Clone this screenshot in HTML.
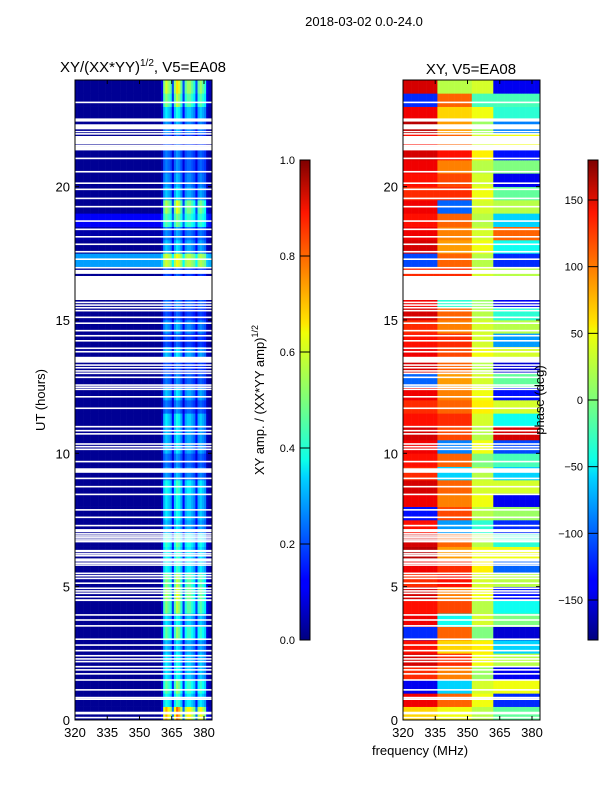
<!DOCTYPE html>
<html><head><meta charset="utf-8">
<style>
html,body{margin:0;padding:0;background:#fff;}
svg{display:block;font-family:"Liberation Sans","DejaVu Sans",sans-serif;}
</style></head>
<body>
<svg id="fig" width="600" height="800" viewBox="0 0 600 800" xmlns="http://www.w3.org/2000/svg">
<defs>
<linearGradient id="jet" x1="0" y1="1" x2="0" y2="0">
<stop offset="0" stop-color="#00007f"/><stop offset="0.11" stop-color="#0000ff"/>
<stop offset="0.125" stop-color="#0000ff"/><stop offset="0.34" stop-color="#00d4ff"/>
<stop offset="0.375" stop-color="#0dffe9"/><stop offset="0.5" stop-color="#7dff7a"/>
<stop offset="0.64" stop-color="#f0ff06"/><stop offset="0.66" stop-color="#ffe600"/>
<stop offset="0.89" stop-color="#ff1600"/><stop offset="1" stop-color="#7f0000"/>
</linearGradient>
</defs>
<text x="364" y="26" font-size="13" text-anchor="middle">2018-03-02 0.0-24.0</text>
<text x="143" y="72" font-size="15" text-anchor="middle">XY/(XX*YY)<tspan font-size="10" dy="-6">1/2</tspan><tspan dy="6">, V5=EA08</tspan></text>
<text x="471" y="74" font-size="15" text-anchor="middle">XY, V5=EA08</text>
<g id="ampPanel"></g>
<g id="phasePanel"></g>
<g id="axes"></g>
<text transform="translate(45,400) rotate(-90)" font-size="13" text-anchor="middle">UT (hours)</text>
<text x="420" y="755" font-size="13" text-anchor="middle">frequency (MHz)</text>
<text transform="translate(264,400) rotate(-90)" font-size="13" text-anchor="middle">XY amp. / (XX*YY amp)<tspan font-size="9" dy="-6">1/2</tspan></text>
<text transform="translate(544,400) rotate(-90)" font-size="13" text-anchor="middle">phase (deg)</text>
<rect x="300" y="160" width="10" height="480" fill="url(#jet)" stroke="#000" stroke-width="1"/>
<rect x="588" y="160" width="10" height="480" fill="url(#jet)" stroke="#000" stroke-width="1"/>
<g id="cbticks"></g>
</svg>
<script>
// ---- data ----
const freqStart = 320, nChan = 64; // 1 MHz channels 320..383
const chanProfile = [0,0,0,0,0,0,0,0,0,0,0,0,0,0,0,0,0,0,0,0,0,0,0,0,0,0,0,0,0,0,0,0,0,0,0,0,0,0,0,0,0.05,0.32,0.38,0.34,0.3,0.12,0.34,0.42,0.38,0.3,0.12,0.3,0.34,0.34,0.3,0.26,0.12,0.3,0.34,0.3,0.26,0.05,0.02,0.02];
const rowGain = [1.8,1.0,1.2,0.9,0.9,0.8,1.2,0.9,1.3,1.4,1.3,1.0,1.0,1.1,0.8,0.9,0.9,1.0,0.7,0.6,0.8,0.8,0.9,0.6,0.8,0.6,0.5,0.8,0.5,0.7,0.5,0.6,0.5,0.5,0.8,0.8,0.6,0.9,1.4,0.8,0.7,0.6,0.6,0.5,0.7,0.9,1.3,1.5];
const rowBg = [0.02,0.02,0.02,0.02,0.02,0.02,0.02,0.02,0.02,0.02,0.02,0.02,0.02,0.02,0.02,0.02,0.02,0.02,0.02,0.02,0.02,0.02,0.02,0.02,0.02,0.02,0.02,0.02,0.02,0.02,0.02,0.02,0.02,0.02,0.28,0.02,0.04,0.12,0.02,0.02,0.02,0.02,0.02,0.02,0.02,0.02,0.02,0.02];
const phaseBlockEdges = [320,336,352,362,384];
const phaseA = [60,140,-140,120,150,130,-120,140,130,150,120,140,160,150,130,-130,140,150,120,130,140,150,130,120,140,-100,150,140,130,120,150,140,130,120,-110,150,140,130,140,120,130,140,150,130,160,140,-120,150];
const phaseB = [40,100,-60,90,120,60,100,-40,110,90,130,120,80,100,-80,110,90,100,-60,100,-90,110,120,100,90,80,100,110,120,90,100,-30,110,120,100,80,90,100,-100,120,110,90,130,100,80,60,100,20];
const phaseC = [20,40,30,10,40,50,0,30,20,40,30,50,40,20,-30,20,40,30,20,0,40,20,30,50,40,30,20,40,30,30,20,10,40,30,20,40,30,20,30,40,30,20,50,30,10,40,-20,30];
const phaseD = [-10,-120,40,-140,20,-60,-150,0,-40,-130,20,-100,40,-30,-120,10,-140,30,-60,-20,-110,150,-40,30,-130,-10,-150,30,-80,20,-30,-140,10,20,-120,-40,100,-60,20,-10,-140,0,-130,40,-90,-30,-20,-140];
const flagStart = [23.13,22.44,22.15,22.04,21.95,21.59,21.51,21.46,21.41,21.36,21.03,20.53,20.1,19.87,19.53,19.22,18.68,18.37,18.09,17.81,17.53,17.25,16.93,16.73,15.75,15.63,15.53,15.43,15.32,15.07,14.85,14.57,14.38,14.19,13.91,13.78,13.4,13.28,13.18,13.06,12.97,12.82,12.53,12.45,12.37,12.09,11.66,10.97,10.82,10.7,10.32,10.22,10.12,9.66,9.27,9.03,8.72,8.43,7.85,7.57,7.26,7.04,6.95,6.87,6.8,6.72,6.66,6.29,6.2,6.13,5.94,5.85,5.78,5.47,5.38,5.28,5.1,4.91,4.81,4.72,4.59,4.46,3.91,3.72,3.5,3.0,2.78,2.57,2.38,2.26,2.16,1.97,1.85,1.7,1.47,1.1,0.81,0.75,0.21,0.06];
const flagEnd   = [23.19,22.56,22.34,22.09,22.01,21.9,21.57,21.52,21.47,21.42,21.09,20.59,20.16,19.93,19.59,19.28,18.74,18.43,18.15,17.87,17.59,17.31,16.99,16.88,16.65,15.69,15.59,15.49,15.38,15.13,14.91,14.63,14.44,14.25,13.97,13.84,13.62,13.34,13.24,13.12,13.03,12.88,12.59,12.51,12.43,12.15,11.72,11.03,10.88,10.76,10.38,10.28,10.18,9.72,9.44,9.09,8.78,8.49,7.91,7.63,7.32,7.16,7.01,6.93,6.86,6.78,6.72,6.38,6.26,6.19,6.06,5.91,5.84,5.53,5.44,5.34,5.16,4.97,4.87,4.78,4.65,4.53,3.97,3.78,3.56,3.06,2.84,2.63,2.44,2.32,2.22,2.03,1.91,1.76,1.53,1.16,0.87,0.81,0.31,0.12];
const yTicks = [0,5,10,15,20];
const xTicks = [320,335,350,365,380];
const ampTicks = [0.0,0.2,0.4,0.6,0.8,1.0];
const phaseTicks = [-150,-100,-50,0,50,100,150];

// ---- scales ----
const NS="http://www.w3.org/2000/svg";
const plotTop=80, plotBot=720, pxPerMHz=2.15;
const panels=[{x0:75,x1:212,g:'ampPanel'},{x0:403,x1:540,g:'phasePanel'}];
function yScale(h){return plotBot-(h/24)*(plotBot-plotTop);}
function xScale(p,f){return p.x0+(f-320)*pxPerMHz;}
function jet(v){v=Math.max(0,Math.min(1,v));
 const c=x=>Math.round(255*Math.max(0,Math.min(1,1.5-Math.abs(4*v-x))));
 return `rgb(${c(3)},${c(2)},${c(1)})`;}
function mk(tag,attrs,parent){const e=document.createElementNS(NS,tag);for(const k in attrs)e.setAttribute(k,attrs[k]);parent.appendChild(e);return e;}
function phaseAt(r,f){const arrs=[phaseA,phaseB,phaseC,phaseD];for(let b=0;b<4;b++){if(f<phaseBlockEdges[b+1])return arrs[b][r];}return phaseD[r];}

const nRows=rowGain.length, rowH=24/nRows;
panels.forEach((p,pi)=>{
 const g=document.getElementById(p.g);
 for(let r=0;r<nRows;r++){
  const yTop=yScale((r+1)*rowH), yB=yScale(r*rowH);
  for(let c=0;c<nChan;c++){
   const f=freqStart+c;
   const x=xScale(p,f); if(x>=p.x1) continue;
   const w=Math.min(xScale(p,f+1),p.x1)-x;
   const v= pi===0 ? rowBg[r]+chanProfile[c]*rowGain[r] : (phaseAt(r,f)+180)/360;
   const rc=mk('rect',{x:x.toFixed(2),y:yTop.toFixed(2),width:(w+0.3).toFixed(2),height:(yB-yTop+0.3).toFixed(2),fill:jet(v)},g);
   
   
  }
 }
 for(let i=0;i<flagStart.length;i++){
  const y0=yScale(flagEnd[i]), y1=yScale(flagStart[i]);
  const fr=mk('rect',{x:p.x0,y:y0.toFixed(2),width:p.x1-p.x0,height:(y1-y0).toFixed(2),fill:'#fff'},g);
  
  
 }
 const ax=document.getElementById('axes');
 const fb=mk('rect',{x:p.x0,y:plotTop,width:p.x1-p.x0,height:plotBot-plotTop,fill:'none',stroke:'#000','stroke-width':1},ax);
 
 
 yTicks.forEach(t=>{const y=yScale(t);
  const l1=mk('line',{x1:p.x0,x2:p.x0+4,y1:y,y2:y,stroke:'#000'},ax);
  
  
  const l2=mk('line',{x1:p.x1-4,x2:p.x1,y1:y,y2:y,stroke:'#000'},ax);
  
  
  const tx=mk('text',{x:p.x0-5,y:y+5,'font-size':13,'text-anchor':'end'},ax);tx.textContent=t;
  
  
 });
 xTicks.forEach(t=>{const x=xScale(p,t);
  const l1=mk('line',{x1:x,x2:x,y1:plotBot,y2:plotBot-4,stroke:'#000'},ax);
  
  
  const l2=mk('line',{x1:x,x2:x,y1:plotTop,y2:plotTop+4,stroke:'#000'},ax);
  
  
  const tx=mk('text',{x:x,y:plotBot+17,'font-size':13,'text-anchor':'middle'},ax);tx.textContent=t;
  
  
 });
});
const cg=document.getElementById('cbticks');
ampTicks.forEach(t=>{const y=640-t*480;
 const l=mk('line',{x1:300,x2:310,y1:y,y2:y,stroke:'#000'},cg);
 
 
 const tx=mk('text',{x:295,y:y+4,'font-size':11,'text-anchor':'end'},cg);tx.textContent=t.toFixed(1);
 
 
});
phaseTicks.forEach(t=>{const y=640-(t+180)/360*480;
 const l=mk('line',{x1:588,x2:598,y1:y,y2:y,stroke:'#000'},cg);
 
 
 const tx=mk('text',{x:583,y:y+4,'font-size':11,'text-anchor':'end'},cg);tx.textContent=(t<0?'\u2212'+(-t):t);
 
 
});
</script>
</body></html>
